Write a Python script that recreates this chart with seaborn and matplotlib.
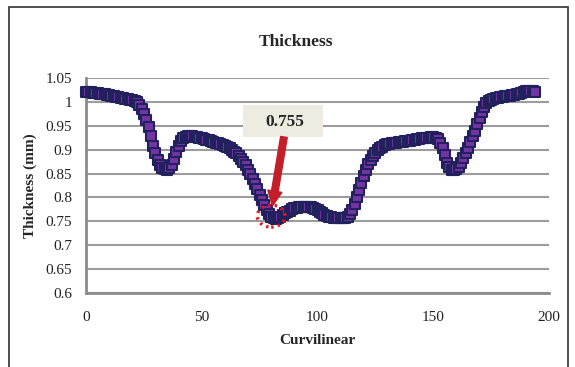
import numpy as np
import pandas as pd
import matplotlib
matplotlib.use("Agg")
import matplotlib.pyplot as plt
from matplotlib.patches import Rectangle, Ellipse
import seaborn as sns

# Thickness profile, one sample per unit of curvilinear abscissa
thickness = [
    1.021, 1.020, 1.020, 1.019, 1.019, 1.018, 1.017, 1.017, 1.016, 1.015,
    1.014, 1.013, 1.012, 1.011, 1.010, 1.009, 1.008, 1.007, 1.006, 1.005,
    1.004, 1.002, 0.999, 0.993, 0.985, 0.975, 0.963, 0.947, 0.928, 0.908,
    0.892, 0.878, 0.868, 0.862, 0.859, 0.858, 0.861, 0.868, 0.880, 0.895,
    0.908, 0.918, 0.924, 0.927, 0.928, 0.928, 0.928, 0.927, 0.926, 0.925,
    0.924, 0.923, 0.921, 0.920, 0.918, 0.917, 0.915, 0.913, 0.912, 0.910,
    0.908, 0.906, 0.903, 0.900, 0.896, 0.892, 0.887, 0.881, 0.874, 0.867,
    0.858, 0.849, 0.839, 0.828, 0.817, 0.806, 0.795, 0.784, 0.774, 0.766,
    0.760, 0.756, 0.755, 0.757, 0.760, 0.764, 0.767, 0.770, 0.772, 0.775,
    0.777, 0.778, 0.779, 0.780, 0.781, 0.781, 0.780, 0.779, 0.777, 0.775,
    0.773, 0.770, 0.767, 0.764, 0.762, 0.760, 0.759, 0.758, 0.757, 0.757,
    0.757, 0.757, 0.758, 0.760, 0.765, 0.774, 0.786, 0.800, 0.815, 0.830,
    0.845, 0.858, 0.869, 0.879, 0.887, 0.894, 0.899, 0.903, 0.906, 0.909,
    0.911, 0.912, 0.913, 0.914, 0.915, 0.916, 0.917, 0.917, 0.918, 0.918,
    0.919, 0.920, 0.921, 0.922, 0.923, 0.924, 0.924, 0.925, 0.925, 0.926,
    0.926, 0.925, 0.922, 0.915, 0.903, 0.888, 0.873, 0.863, 0.858, 0.857,
    0.859, 0.864, 0.872, 0.882, 0.893, 0.904, 0.916, 0.928, 0.940, 0.953,
    0.966, 0.978, 0.989, 0.997, 1.002, 1.005, 1.007, 1.008, 1.009, 1.010,
    1.011, 1.012, 1.012, 1.013, 1.014, 1.015, 1.016, 1.017, 1.019, 1.021,
    1.022, 1.023, 1.023, 1.022, 1.021,
]
curvilinear = list(range(len(thickness)))

x_ticks = [0, 50, 100, 150, 200]
y_ticks = [0.6, 0.65, 0.7, 0.75, 0.8, 0.85, 0.9, 0.95, 1.0, 1.05]
y_tick_labels = ["0.6", "0.65", "0.7", "0.75", "0.8", "0.85", "0.9", "0.95", "1", "1.05"]

# Minimum thickness callout
min_index = int(np.argmin(thickness))
min_x = curvilinear[min_index]
min_y = thickness[min_index]
min_label = f"{min_y:.3f}"

df = pd.DataFrame({"Curvilinear": curvilinear, "Thickness": thickness})

sns.set_theme(style="white")
plt.rcParams["font.family"] = ["Liberation Serif", "DejaVu Serif"]

fig = plt.figure(figsize=(5.75, 3.67), dpi=100)
ax = fig.add_axes([86 / 575, 1 - 293 / 367, (549 - 86) / 575, (293 - 78) / 367])

# Outer chart frame
fig.patches.append(Rectangle((8.5 / 575, -0.05), (568 - 8.5) / 575, 1.05 - 6.5 / 367,
                             transform=fig.transFigure, fill=False,
                             edgecolor="#404040", linewidth=1.3, zorder=0))

sns.scatterplot(data=df, x="Curvilinear", y="Thickness", ax=ax, marker="s", s=54,
                color="#7334a4", edgecolor="#22215e", linewidth=1.5, legend=False,
                zorder=3, clip_on=False)

ax.set_xlim(0, 200)
ax.set_ylim(0.6, 1.05)
ax.set_xticks(x_ticks)
ax.set_xticklabels([str(v) for v in x_ticks])
ax.set_yticks(y_ticks)
ax.set_yticklabels(y_tick_labels)
ax.tick_params(axis="both", length=0, labelsize=11, colors="#222222")
ax.tick_params(axis="x", pad=13)
ax.tick_params(axis="y", pad=10)

ax.grid(axis="y", color="#9c9c9c", linewidth=1.5)
ax.grid(axis="x", visible=False)
ax.set_axisbelow(True)
for side in ["top", "right"]:
    ax.spines[side].set_visible(False)
for side in ["left", "bottom"]:
    ax.spines[side].set_color("#8c8c8c")
    ax.spines[side].set_linewidth(2.0)

ax.set_xlabel("Curvilinear", fontsize=11, fontweight="bold", labelpad=7)
ax.set_ylabel("Thickness (mm)", fontsize=11, fontweight="bold", labelpad=6)
fig.text(296 / 575, 1 - 42 / 367, "Thickness", ha="center", va="center",
         fontsize=12.5, fontweight="bold")

# Dotted red ring around the minimum
ax.add_patch(Ellipse((min_x - 2, min_y + 0.006), 12, 0.046, fill=False,
                     edgecolor="#e8141c", linestyle=(0, (0.7, 1.3)), linewidth=2.4,
                     zorder=6, clip_on=False))

# Value box with arrow pointing to the minimum
box_x0, box_x1 = 68, 102.5
box_y0, box_y1 = 0.9265, 0.9935
ax.add_patch(Rectangle((box_x0, box_y0), box_x1 - box_x0, box_y1 - box_y0,
                       facecolor="#eeece1", edgecolor="none", zorder=5))
ax.text((box_x0 + box_x1) / 2 + 0.5, (box_y0 + box_y1) / 2 - 0.002, min_label,
        ha="center", va="center", fontsize=12.5, fontweight="bold", zorder=6)
ax.annotate("", xy=(min_x - 1.5, min_y + 0.027), xycoords="data",
            xytext=(85.5, box_y0), textcoords="data",
            arrowprops=dict(arrowstyle="simple,head_length=0.9,head_width=0.85,tail_width=0.4",
                            color="#c21f2a", shrinkA=0, shrinkB=0),
            zorder=6)

fig.savefig("out.png", dpi=100)
